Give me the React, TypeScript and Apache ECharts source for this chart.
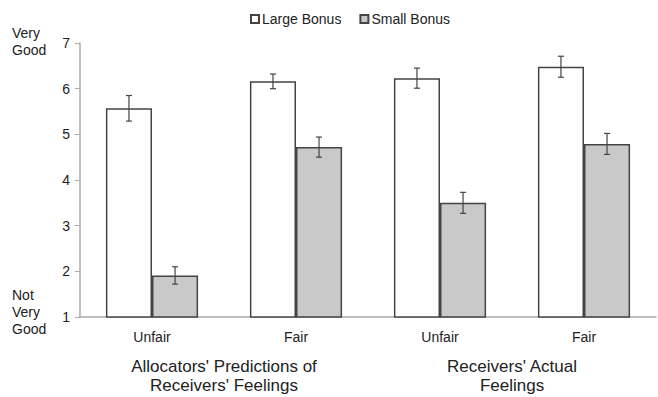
import React, { useEffect, useRef } from "react";
import * as echarts from "echarts";

// Condition labels along the x axis
const conditions = ["Unfair", "Fair", "Unfair", "Fair"];
// Group headings under each pair of conditions
const groupLabels = ["Allocators' Predictions of\nReceivers' Feelings", "Receivers' Actual\nFeelings"];
const seriesNames = ["Large Bonus", "Small Bonus"];

// Mean ratings (1 = Not Very Good, 7 = Very Good)
const largeBonus = [5.57, 6.16, 6.23, 6.48];
const smallBonus = [1.91, 4.72, 3.5, 4.79];
// Standard errors
const largeBonusErr = [0.28, 0.16, 0.22, 0.23];
const smallBonusErr = [0.19, 0.22, 0.23, 0.23];

const yTicks = { min: 1, max: 7, interval: 1 };

const FONT = "Liberation Sans, Arial, sans-serif";
const TEXT = "#222";
const BAR_GAP = 0.36;

function errorSeries(name: string, values: number[], errs: number[], side: number) {
  return {
    type: "custom",
    name,
    z: 5,
    silent: true,
    data: values.map((v, i) => [i, v - errs[i], v + errs[i]]),
    encode: { x: 0, y: [1, 2] },
    renderItem: (params: any, api: any) => {
      const idx = api.value(0);
      const lo = api.coord([idx, api.value(1)]);
      const hi = api.coord([idx, api.value(2)]);
      const band = api.size([1, 0])[0];
      const barW = (band * (1 - BAR_GAP)) / 2;
      const x = lo[0] + (side * barW) / 2;
      const cap = 3;
      const style = { stroke: "#444", lineWidth: 1.2 };
      return {
        type: "group",
        children: [
          { type: "line", shape: { x1: x, y1: hi[1], x2: x, y2: lo[1] }, style },
          { type: "line", shape: { x1: x - cap, y1: hi[1], x2: x + cap, y2: hi[1] }, style },
          { type: "line", shape: { x1: x - cap, y1: lo[1], x2: x + cap, y2: lo[1] }, style },
        ],
      };
    },
  };
}

export default function App() {
  const ref = useRef<HTMLDivElement>(null);

  useEffect(() => {
    if (!ref.current) return;
    const chart = echarts.init(ref.current, null, { renderer: "svg" });
    const gridLeft = 80;
    const gridRight = 2;
    const plotW = 658 - gridLeft - gridRight;
    const catW = plotW / conditions.length;

    chart.setOption({
      animation: false,
      textStyle: { fontFamily: FONT, color: TEXT },
      legend: {
        data: seriesNames,
        top: 12,
        left: 250,
        padding: 0,
        icon: "rect",
        itemWidth: 8,
        itemHeight: 8,
        itemGap: 18,
        textStyle: { fontFamily: FONT, fontSize: 14, color: TEXT, padding: [0, 0, 0, -2] },
      },
      grid: { left: gridLeft, right: gridRight, top: 43, bottom: 80, containLabel: false },
      xAxis: {
        type: "category",
        data: conditions,
        axisLine: { lineStyle: { color: "#aaa", width: 1.5 } },
        axisTick: { show: false },
        axisLabel: { fontFamily: FONT, fontSize: 14, color: TEXT, margin: 13 },
      },
      yAxis: {
        type: "value",
        min: yTicks.min,
        max: yTicks.max,
        interval: yTicks.interval,
        splitLine: { show: false },
        axisLine: { show: true, lineStyle: { color: "#aaa", width: 1.5 } },
        axisTick: { show: true, length: 5, lineStyle: { color: "#aaa" } },
        axisLabel: { fontFamily: FONT, fontSize: 14, color: TEXT, margin: 10 },
      },
      series: [
        {
          type: "bar",
          name: seriesNames[0],
          data: largeBonus,
          barGap: "0%",
          barCategoryGap: `${BAR_GAP * 100}%`,
          itemStyle: { color: "#ffffff", borderColor: "#444", borderWidth: 1.5 },
        },
        {
          type: "bar",
          name: seriesNames[1],
          data: smallBonus,
          itemStyle: { color: "#c9c9c9", borderColor: "#444", borderWidth: 1.5 },
        },
        errorSeries("errLarge", largeBonus, largeBonusErr, -1),
        errorSeries("errSmall", smallBonus, smallBonusErr, 1),
      ],
      graphic: [
        {
          type: "text",
          left: 12,
          top: 24,
          style: { text: "Very\nGood", font: `14px ${FONT}`, fill: TEXT, lineHeight: 17 },
        },
        {
          type: "text",
          left: 12,
          top: 286,
          style: { text: "Not\nVery\nGood", font: `14px ${FONT}`, fill: TEXT, lineHeight: 17 },
        },
        ...groupLabels.map((t, g) => ({
          type: "text",
          x: gridLeft + catW * (2 * g + 1),
          y: 357,
          style: {
            text: t,
            font: `17px ${FONT}`,
            fill: TEXT,
            align: "center",
            lineHeight: 19,
          },
        })),
      ],
    });
    return () => chart.dispose();
  }, []);

  return (
    <div
      ref={ref}
      style={{ position: "fixed", left: 0, top: 0, width: 658, height: 397, background: "#fff" }}
    />
  );
}
